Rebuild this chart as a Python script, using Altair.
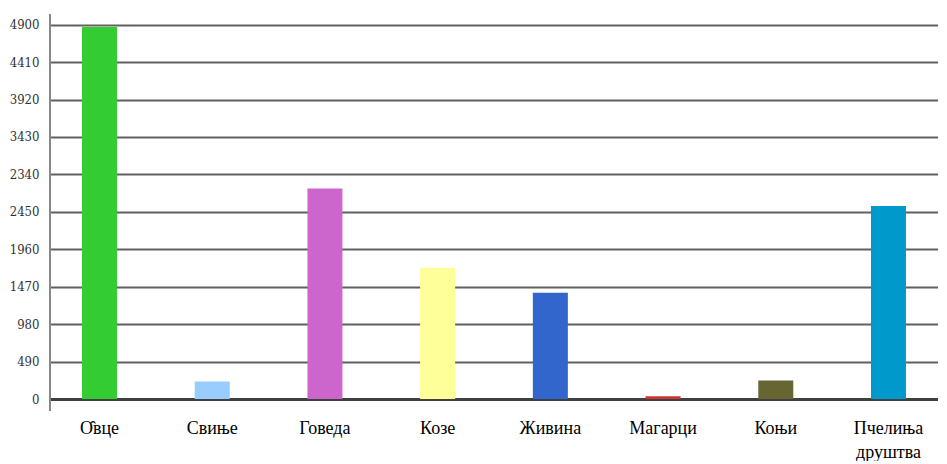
import altair as alt
import pandas as pd

categories = ["О̑вце", "Свиње", "Говеда", "Козе", "Живина", "Магарци", "Коњи", "Пчелиња друштва"]
values = [4870, 229, 2755, 1718, 1392, 35, 242, 2528]
colors = ["#33cc33", "#99ccff", "#cc66cc", "#ffff99", "#3366cc", "#cc3333", "#666633", "#0099cc"]
tick_values = [0, 490, 980, 1470, 1960, 2450, 2940, 3430, 3920, 4410, 4900]
tick_labels = ["0", "490", "980", "1470", "1960", "2450", "2340", "3430", "3920", "4410", "4900"]

df = pd.DataFrame({"cat": categories, "val": values, "color": colors})
W = 888
H = 385
label_expr = "[" + ",".join(f"'{t}'" for t in tick_labels) + "][round(datum.value/490)]"

bars = alt.Chart(df).mark_bar().encode(
    x=alt.X(
        "cat:N",
        sort=categories,
        scale=alt.Scale(paddingInner=0.6894, paddingOuter=0.284),
        axis=alt.Axis(
            title=None, labelAngle=0, ticks=False,
            labelExpr="split(datum.label, ' ')",
            labelFont="Liberation Serif", labelFontSize=18, labelColor="#000",
            labelPadding=20, domainColor="#404040", domainWidth=3, grid=False,
            labelLineHeight=24,
        ),
    ),
    y=alt.Y(
        "val:Q",
        scale=alt.Scale(domain=[0, 5040], nice=False),
        axis=alt.Axis(
            title=None, values=tick_values, labelExpr=label_expr, grid=True,
            gridColor="#606060", gridWidth=2, domain=False, ticks=False,
            labelFont="DejaVu Serif Condensed", labelFontSize=13, labelColor="#333",
            labelPadding=11,
        ),
    ),
    color=alt.Color("color:N", scale=None),
)

axis_line = alt.Chart(pd.DataFrame({"a": [0]})).mark_rule(color="#888888", strokeWidth=2).encode(
    x=alt.value(0), y=alt.value(0), y2=alt.value(H + 12)
)

chart = alt.layer(bars, axis_line).properties(
    width=W, height=H, padding={"left": 1, "top": 5, "right": 0, "bottom": 0}
).configure_view(stroke=None)

chart.save("out.html", embed_options={"renderer": "svg", "actions": False})
